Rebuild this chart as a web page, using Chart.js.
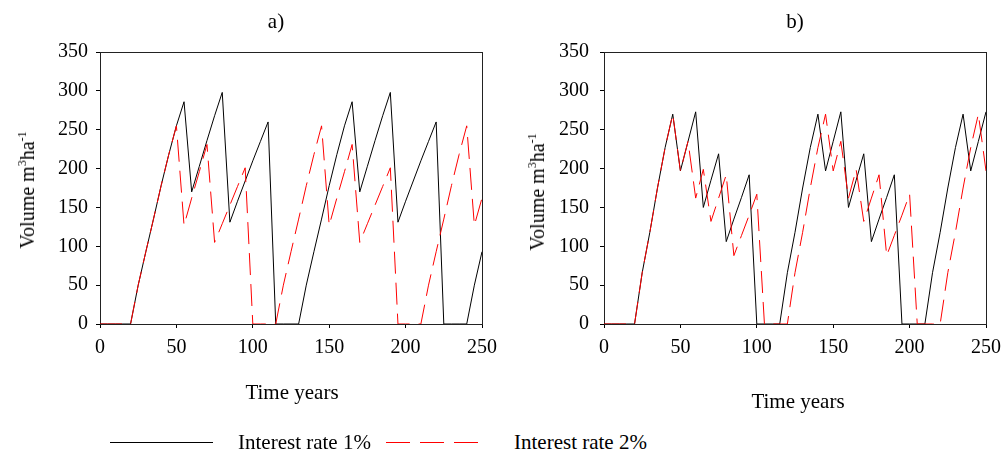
<!DOCTYPE html>
<html lang="en">
<head>
  <meta charset="UTF-8" />
  <title>Volume over time</title>
  <script src="https://cdn.jsdelivr.net/npm/chart.js"></script>
  <style>
    body {
      margin: 0;
      width: 1005px;
      height: 452px;
      position: relative;
      background: #fff;
      font-family: "Liberation Serif", "Times New Roman", serif;
      color: #000;
      overflow: hidden;
    }
    .box { position: absolute; top: 0; height: 420px; }
    .txt {
      position: absolute;
      font-size: 21px;
      line-height: 1;
      white-space: nowrap;
      transform: translate(-50%, -50%);
    }
    .ylab { font-size: 20px; transform: translate(-50%, -50%) rotate(-90deg); }
    .ylab sup { font-size: 12px; vertical-align: 8px; line-height: 0; }
    .leg { position: absolute; font-size: 21px; line-height: 1; white-space: nowrap; }
  </style>
</head>
<body>

<div class="box" style="left:0; width:505px;"><canvas id="chartA"></canvas></div>
<div class="box" style="left:502px; width:507px;"><canvas id="chartB"></canvas></div>

<div class="txt" style="left:276px; top:21px;">a)</div>
<div class="txt" style="left:795px; top:21px;">b)</div>

<div class="txt ylab" style="left:27px; top:190px;">Volume m<sup>3</sup>ha<sup>-1</sup></div>
<div class="txt ylab" style="left:537px; top:192px;">Volume m<sup>3</sup>ha<sup>-1</sup></div>

<div class="txt" style="left:292px; top:392px;">Time years</div>
<div class="txt" style="left:798px; top:401px;">Time years</div>

<!-- legend -->
<svg style="position:absolute; left:0; top:436px;" width="1005" height="12">
  <line x1="110" y1="6.5" x2="213" y2="6.5" stroke="#000" stroke-width="1" />
  <line x1="386" y1="6.5" x2="478" y2="6.5" stroke="#ff0000" stroke-width="1" stroke-dasharray="24 10" />
</svg>
<div class="leg" style="left:238px; top:432px;">Interest rate 1%</div>
<div class="leg" style="left:514px; top:432px;">Interest rate 2%</div>

<script>
  // years, 5-year steps
  const years = [];
  for (let y = 0; y <= 250; y += 5) years.push(y);

  // panel a) standing volume, m3/ha
  const volA1 = [0, 0, 0, 0, 0, 50, 93, 135, 178, 218, 255, 286,
    170, 203, 236, 268, 298, 131, 158, 184, 210, 235, 260,
    0, 0, 0, 0, 50, 93, 135, 178, 218, 255, 286,
    170, 203, 236, 268, 298, 131, 158, 184, 210, 235, 260,
    0, 0, 0, 0, 50, 93];
  const volA2 = [0, 0, 0, 0, 0, 50, 93, 135, 178, 218, 255,
    127, 162, 196, 231, 105, 129, 153, 177, 201,
    0, 0, 0, 0, 50, 93, 135, 178, 218, 255,
    127, 162, 196, 231, 105, 129, 153, 177, 201,
    0, 0, 0, 0, 50, 93, 135, 178, 218, 255,
    127, 162];

  // panel b)
  const volB1 = [0, 0, 0, 0, 0, 66, 118, 175, 227, 270,
    197, 235, 273, 150, 185, 219, 106, 135, 163, 192,
    0, 0, 0, 0, 66, 118, 175, 227, 270,
    197, 235, 273, 150, 185, 219, 106, 135, 163, 192,
    0, 0, 0, 0, 66, 118, 175, 227, 270,
    197, 235, 273];
  const volB2 = [0, 0, 0, 0, 0, 66, 118, 175, 227, 270,
    197, 235, 162, 199, 132, 162, 192, 88, 114, 140, 167,
    0, 0, 0, 0, 66, 118, 175, 227, 270,
    197, 235, 162, 199, 132, 162, 192, 88, 114, 140, 167,
    0, 0, 0, 0, 66, 118, 175, 227, 270,
    197];

  const seriesNames = ['Interest rate 1%', 'Interest rate 2%'];
  const xTicks = { min: 0, max: 250, step: 50 };
  const yTicks = { min: 0, max: 350, step: 50 };

  const FONT = '"Liberation Serif", "Times New Roman", serif';

  // box round the plot area, drawn under the lines
  const framePlugin = {
    id: 'frame',
    beforeDatasetsDraw(chart) {
      const { ctx, chartArea: a } = chart;
      ctx.save();
      ctx.strokeStyle = '#222';
      ctx.lineWidth = 1;
      ctx.strokeRect(Math.round(a.left) + 0.5, Math.round(a.top) + 0.5,
        Math.round(a.right) - Math.round(a.left), Math.round(a.bottom) - Math.round(a.top));
      ctx.restore();
    }
  };

  function pts(vals) {
    return vals.map((v, i) => ({ x: years[i], y: v }));
  }

  function makeChart(id, v1, v2, yWidth, yPad) {
    return new Chart(document.getElementById(id), {
      type: 'line',
      data: {
        datasets: [
          { label: seriesNames[0], data: pts(v1), borderColor: '#000', borderWidth: 1,
            pointRadius: 0, tension: 0, order: 2 },
          { label: seriesNames[1], data: pts(v2), borderColor: '#ff0000', borderWidth: 1,
            borderDash: [22, 9], pointRadius: 0, tension: 0, order: 1 }
        ]
      },
      options: {
        responsive: true,
        maintainAspectRatio: false,
        animation: false,
        layout: { padding: { top: 52, right: 0, bottom: 0, left: 0 } },
        plugins: { legend: { display: false }, tooltip: { enabled: false } },
        scales: {
          x: {
            type: 'linear', min: xTicks.min, max: xTicks.max,
            ticks: { stepSize: xTicks.step, color: '#000', padding: 8, maxRotation: 0,
                     font: { family: FONT, size: 20 } },
            grid: { drawOnChartArea: false, drawTicks: true, tickLength: 4, color: '#000' },
            border: { display: true, color: '#000' },
            afterFit: s => { s.height = 96; }
          },
          y: {
            min: yTicks.min, max: yTicks.max,
            ticks: { stepSize: yTicks.step, color: '#000', padding: yPad,
                     font: { family: FONT, size: 20 } },
            grid: { drawOnChartArea: false, drawTicks: true, tickLength: 4, color: '#000' },
            border: { display: true, color: '#000' },
            afterFit: s => { s.width = yWidth; }
          }
        }
      },
      plugins: [framePlugin]
    });
  }

  makeChart('chartA', volA1, volA2, 100, 8);
  makeChart('chartB', volB1, volB2, 102, 11);
</script>
</body>
</html>
